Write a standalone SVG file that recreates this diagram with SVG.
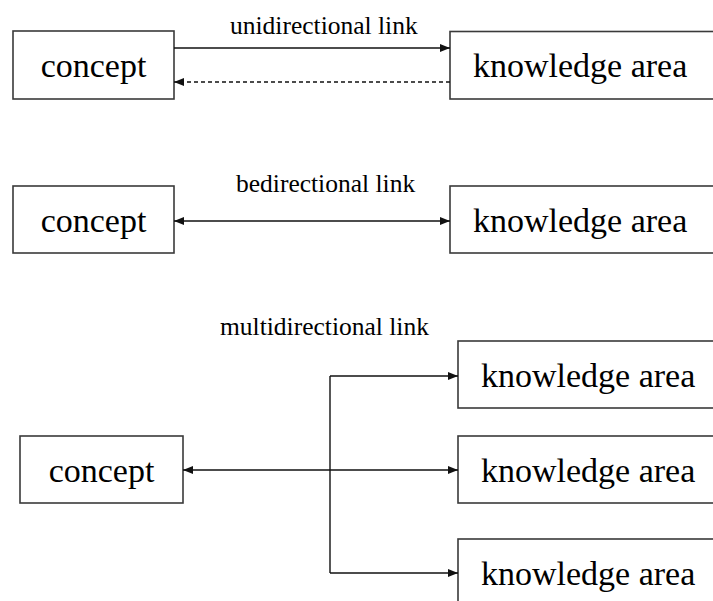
<svg xmlns="http://www.w3.org/2000/svg" width="713" height="601" viewBox="0 0 713 601">
  <style>
    .box { fill: #ffffff; stroke: #3a3a3a; stroke-width: 1.6; }
    .link { fill: none; stroke: #111; stroke-width: 1.4; }
    .dashed { stroke-dasharray: 4 3; }
  </style>
  <defs>
    <marker id="head" viewBox="0 0 10 8" refX="10" refY="4" markerWidth="10" markerHeight="8" markerUnits="userSpaceOnUse" orient="auto-start-reverse">
      <path d="M0,0 L10,4 L0,8 Z" fill="#111"/>
    </marker>
  </defs>
  <rect width="713" height="601" fill="#ffffff"/>

  <g font-family="Liberation Serif, DejaVu Serif, serif" fill="#000">
    <!-- labels -->
    <g font-size="25.5">
      <text x="230" y="34">unidirectional link</text>
      <text x="236" y="192">bedirectional link</text>
      <text x="220" y="335">multidirectional link</text>
    </g>

    <g font-size="34">
      <!-- row 1: unidirectional -->
      <g id="concept1">
        <rect class="box" x="13" y="31" width="161" height="68"/>
        <text x="93.5" y="77" text-anchor="middle">concept</text>
      </g>
      <g id="area1">
        <rect class="box" x="450" y="31.5" width="270" height="67.5"/>
        <text x="473" y="77">knowledge area</text>
      </g>

      <!-- row 2: bidirectional -->
      <g id="concept2">
        <rect class="box" x="13" y="186" width="161" height="67"/>
        <text x="93.5" y="232" text-anchor="middle">concept</text>
      </g>
      <g id="area2">
        <rect class="box" x="450" y="186" width="270" height="67"/>
        <text x="473" y="232">knowledge area</text>
      </g>

      <!-- row 3: multidirectional -->
      <g id="concept3">
        <rect class="box" x="20" y="436" width="163" height="67"/>
        <text x="101.5" y="482" text-anchor="middle">concept</text>
      </g>
      <g id="area3a">
        <rect class="box" x="458" y="341" width="262" height="67"/>
        <text x="481" y="387">knowledge area</text>
      </g>
      <g id="area3b">
        <rect class="box" x="458" y="436" width="262" height="67"/>
        <text x="481" y="482">knowledge area</text>
      </g>
      <g id="area3c">
        <rect class="box" x="458" y="539" width="262" height="70"/>
        <text x="481" y="585">knowledge area</text>
      </g>
    </g>
  </g>

  <!-- connectors -->
  <g id="connectors">
    <path class="link" d="M174,48 H450" marker-end="url(#head)"/>
    <path class="link dashed" d="M450,82 H174" marker-end="url(#head)"/>
    <path class="link" d="M174,221 H450" marker-start="url(#head)" marker-end="url(#head)"/>
    <path class="link" d="M183,470 H458" marker-start="url(#head)" marker-end="url(#head)"/>
    <path class="link" d="M330,376 V573"/>
    <path class="link" d="M330,376 H458" marker-end="url(#head)"/>
    <path class="link" d="M330,573 H458" marker-end="url(#head)"/>
  </g>
</svg>
